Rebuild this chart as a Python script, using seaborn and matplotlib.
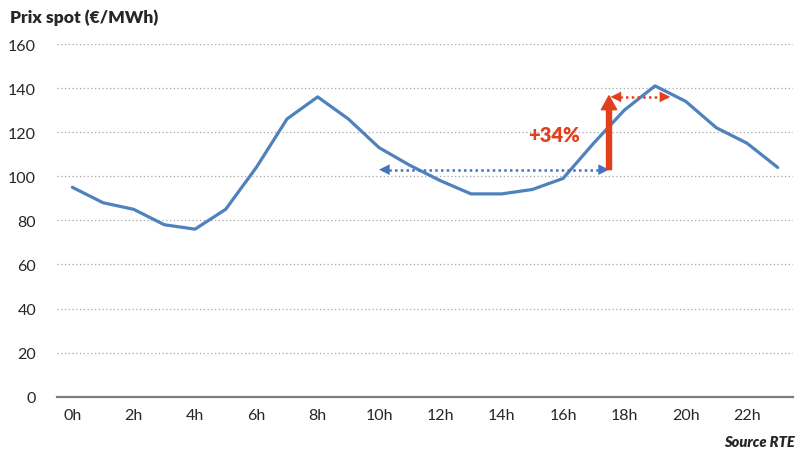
import matplotlib
matplotlib.use("Agg")
import matplotlib.pyplot as plt
import seaborn as sns
import pandas as pd

hours = list(range(24))
prices = [95, 88, 85, 78, 76, 85, 104, 126, 136, 126, 113, 105, 98, 92, 92, 94, 99, 115, 130, 141, 134, 122, 115, 104]
tick_hours = list(range(0, 24, 2))
tick_labels = [f"{h}h" for h in tick_hours]
y_ticks = [0, 20, 40, 60, 80, 100, 120, 140, 160]

title = "Prix spot (€/MWh)"
source = "Source RTE"
increase_label = "+34%"

sns.set_style("white")
plt.rcParams["font.family"] = ["Lato", "DejaVu Sans"]

BLUE = "#4F81BD"
RED = "#E2401C"
TXT = "#262626"

df = pd.DataFrame({"hour": hours, "price": prices})

fig = plt.figure(figsize=(8, 4.56), dpi=100)
ax = fig.add_axes([0.07125, 0.1279, 0.92, 0.7734])

sns.lineplot(data=df, x="hour", y="price", ax=ax, color=BLUE, linewidth=2.3)

ax.set_xlim(-0.5, 23.5)
ax.set_ylim(0, 160)
ax.set_yticks(y_ticks)
ax.set_yticklabels([str(v) for v in y_ticks], fontsize=11.5, color=TXT)
ax.set_xticks(tick_hours)
ax.set_xticklabels(tick_labels, fontsize=11.5, color=TXT)
ax.tick_params(axis="y", length=0, pad=15)
ax.tick_params(axis="x", length=0, pad=8)
ax.set_xlabel("")
ax.set_ylabel("")

for v in y_ticks[1:]:
    ax.axhline(v, color="#A6A6A6", linewidth=0.9, linestyle=(0, (1, 2)), zorder=0)

for s in ["left", "right", "top"]:
    ax.spines[s].set_visible(False)
ax.spines["bottom"].set_color("#7F7F7F")
ax.spines["bottom"].set_linewidth(1.6)


def dotted_double_arrow(x0, x1, y, color):
    ax.plot([x0 + 0.12, x1 - 0.12], [y, y], color=color, linewidth=1.8,
            linestyle=(0, (1, 1.3)), zorder=4)
    for tip, tail in ((x0, x0 + 0.3), (x1, x1 - 0.3)):
        ax.annotate("", xy=(tip, y), xytext=(tail, y),
                    arrowprops=dict(arrowstyle="-|>,head_length=0.7,head_width=0.35",
                                    color=color, lw=0, shrinkA=0, shrinkB=0,
                                    mutation_scale=11), zorder=5)


dotted_double_arrow(10.0, 17.5, 103, "#4472C4")
dotted_double_arrow(17.55, 19.5, 136, RED)

ax.annotate("", xy=(17.5, 136.5), xytext=(17.5, 103),
            arrowprops=dict(width=3.6, headwidth=11, headlength=10,
                            color=RED, shrink=0), zorder=6)

ax.text(15.7, 119, increase_label, color=RED, fontsize=14.5, fontweight="heavy",
        ha="center", va="center")

fig.text(0.0125, 0.962, title, fontsize=12.5, fontweight="heavy", color=TXT,
         ha="left", va="center")
fig.text(0.994, 0.015, source, fontsize=10.5, fontweight="heavy", style="italic",
         color=TXT, ha="right", va="bottom")

fig.savefig("out.png", dpi=100)
